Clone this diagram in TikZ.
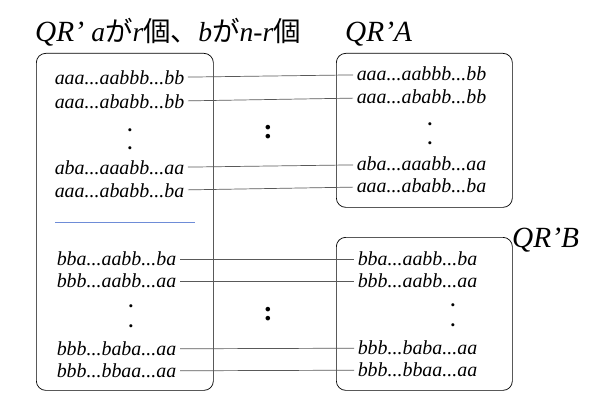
\documentclass[tikz,border=0pt]{standalone}
\usepackage{fontspec}
\setmainfont{Liberation Serif}
\newfontfamily\cjk{Noto Sans CJK JP}
\usetikzlibrary{positioning}

\definecolor{sepblue}{RGB}{110,140,215}

\begin{document}
\begin{tikzpicture}[
        x=0.03cm, y=-0.03cm,
        % 枠
        group/.style={
            rectangle,
            rounded corners=8pt,
            draw=black,
            line width=0.6pt,
            anchor=north west,
            inner sep=0pt
        },
        % 文字列
        word/.style={
            anchor=west,
            inner sep=3pt,
            font=\fontsize{17}{19}\selectfont\itshape
        },
        % 縦の点
        vdots/.style={
            inner sep=0pt,
            font=\fontsize{16}{18}\selectfont\bfseries
        },
        % タイトル
        title/.style={
            anchor=base west,
            inner sep=0pt,
            font=\fontsize{25}{28}\selectfont\itshape
        },
        % 結ぶ線
        link/.style={
            draw=black!65,
            line width=0.6pt
        }
    ]
    \useasboundingbox (0,0) rectangle (600,400);

    % ================= 枠 =================
    \node[group, minimum width=177*0.03cm, minimum height=337*0.03cm] (boxL) at (36,53) {};
    \node[group, minimum width=176*0.03cm, minimum height=154*0.03cm] (boxA) at (336,53) {};
    \node[group, minimum width=176*0.03cm, minimum height=153*0.03cm] (boxB) at (336,237) {};

    % ================= タイトル =================
    \node[title] (tL) at (35,42) {QR’ {\fontsize{23.5}{26}\selectfont a\cjk\upshape が\itshape\rmfamily r\cjk\upshape 個、\itshape\rmfamily b\cjk\upshape が\itshape\rmfamily n-r\cjk\upshape 個}};
    \node[title] (tA) at (345,42) {QR’A};
    \node[title] (tB) at (512,247) {QR’B};

    % ================= 左の枠 =================
    \node[word] (la1) at (51,78) {aaa...aabbb...bb};
    \node[word] (la2) at (51,102) {aaa...ababb...bb};
    \node[vdots] (lad1) at (130,130) {.};
    \node[vdots] (lad2) at (130,148) {.};
    \node[word] (la3) at (51,168) {aba...aaabb...aa};
    \node[word] (la4) at (51,191) {aaa...ababb...ba};

    \draw[draw=sepblue, line width=0.6pt] (55,222) coordinate (sepL) -- (195,222) coordinate (sepR);

    \node[word] (lb1) at (53,259) {bba...aabb...ba};
    \node[word] (lb2) at (53,281) {bbb...aabb...aa};
    \node[vdots] (lbd1) at (131,306) {.};
    \node[vdots] (lbd2) at (131,326) {.};
    \node[word] (lb3) at (53,349) {bbb...baba...aa};
    \node[word] (lb4) at (53,371) {bbb...bbaa...aa};

    % ================= 右上の枠 =================
    \node[word] (ra1) at (353,74) {aaa...aabbb...bb};
    \node[word] (ra2) at (353,97) {aaa...ababb...bb};
    \node[vdots] (rad1) at (430,124) {.};
    \node[vdots] (rad2) at (430,143) {.};
    \node[word] (ra3) at (353,164) {aba...aaabb...aa};
    \node[word] (ra4) at (353,186) {aaa...ababb...ba};

    % ================= 右下の枠 =================
    \node[word] (rb1) at (354,259) {bba...aabb...ba};
    \node[word] (rb2) at (354,281) {bbb...aabb...aa};
    \node[vdots] (rbd1) at (453,305) {.};
    \node[vdots] (rbd2) at (453,325) {.};
    \node[word] (rb3) at (354,348) {bbb...baba...aa};
    \node[word] (rb4) at (354,370) {bbb...bbaa...aa};

    % ================= 中央の点 =================
    \node[vdots, font=\fontsize{24}{26}\selectfont\bfseries] (mid1) at (268,132) {:};
    \node[vdots, font=\fontsize{24}{26}\selectfont\bfseries] (mid2) at (268,314) {:};

    % ================= 線 =================
    \foreach \i in {1,...,4} {
        \draw[link] (la\i) -- (ra\i);
        \draw[link] (lb\i) -- (rb\i);
    }

\end{tikzpicture}
\end{document}
